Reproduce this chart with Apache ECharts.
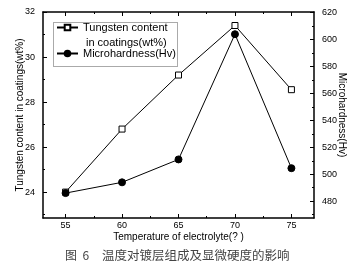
<!DOCTYPE html>
<html><head><meta charset="utf-8">
<script src="https://cdn.jsdelivr.net/npm/echarts@6/dist/echarts.min.js"></script>
<style>html,body{margin:0;padding:0;background:#fff}#c{width:357px;height:266px}</style>
</head><body><div id="c"></div>
<script>
var temperatures = [55, 60, 65, 70, 75];
var tungstenContent = [24.0, 26.8, 29.2, 31.4, 28.55];
var microhardness = [486, 494, 511, 604, 504.5];
var xTicks = [55, 60, 65, 70, 75];
var xMinorTicks = [57.5, 62.5, 67.5, 72.5];
var leftTicks = [24, 26, 28, 30, 32];
var leftMinorTicks = [23, 25, 27, 29, 31];
var rightTicks = [480, 500, 520, 540, 560, 580, 600, 620];
var rightMinorTicks = [470, 490, 510, 530, 550, 570, 590, 610];

var FONT = 'Liberation Sans';
var chart = echarts.init(document.getElementById('c'), null, {renderer: 'canvas'});
var xr = {min: 53, max: 77}, lr = {min: 22.85, max: 32}, rr = {min: 467.5, max: 620.5};
function pair(a, b) { return a.map(function (v, i) { return [v, b[i]]; }); }
var axLine = {show: true, lineStyle: {color: '#000', width: 1.5}};
function tickAxis(base, vals, len, showLine) {
  return Object.assign({
    type: 'value', splitLine: {show: false},
    axisLine: showLine ? axLine : {show: false},
    axisLabel: {show: false},
    axisTick: {show: true, inside: true, length: len, customValues: vals, lineStyle: {color: '#000', width: 1}}
  }, base);
}
var lblStyle = {fontFamily: FONT, fontSize: 9, color: '#000'};

chart.setOption({
  animation: false,
  grid: {left: 43, right: 43, top: 12, bottom: 48},
  legend: {
    show: true, orient: 'vertical', left: 56, top: 22, padding: 0,
    itemWidth: 21, itemHeight: 7, itemGap: 15,
    textStyle: {fontFamily: FONT, fontSize: 11, color: '#000'},
    data: ['Tungsten', 'Microhardness'],
    formatter: function (n) { return n === 'Tungsten' ? 'Tungsten content' : 'Microhardness(Hv)'; }
  },
  xAxis: [
    Object.assign(tickAxis({position: 'bottom', min: xr.min, max: xr.max}, xTicks, 4, true), {
      axisLabel: {show: true, customValues: xTicks, margin: 3, fontFamily: FONT, fontSize: 9, color: '#000'},
      name: 'Temperature of electrolyte(? )', nameLocation: 'middle', nameGap: 14, nameMoveOverlap: false,
      nameTextStyle: {fontFamily: FONT, fontSize: 10, color: '#000', verticalAlign: 'top'}
    }),
    tickAxis({position: 'top', min: xr.min, max: xr.max}, xTicks, 4, true),
    tickAxis({position: 'bottom', min: xr.min, max: xr.max}, xMinorTicks, 2, false),
    tickAxis({position: 'top', min: xr.min, max: xr.max}, xMinorTicks, 2, false)
  ],
  yAxis: [
    Object.assign(tickAxis({position: 'left', min: lr.min, max: lr.max}, leftTicks, 4, true), {
      axisLabel: Object.assign({show: true, customValues: leftTicks, margin: 8}, lblStyle),
      name: 'Tungsten content in coatings(wt%)', nameLocation: 'middle', nameGap: 18, nameRotate: 90, nameMoveOverlap: false,
      nameTextStyle: {fontFamily: FONT, fontSize: 10, color: '#000'}
    }),
    Object.assign(tickAxis({position: 'right', min: rr.min, max: rr.max}, rightTicks, 4, true), {
      axisLabel: Object.assign({show: true, customValues: rightTicks, margin: 8}, lblStyle),
      name: 'Microhardness(Hv)', nameLocation: 'middle', nameGap: 23, nameRotate: -90, nameMoveOverlap: false,
      nameTextStyle: {fontFamily: FONT, fontSize: 10, color: '#000'}
    }),
    tickAxis({position: 'left', min: lr.min, max: lr.max}, leftMinorTicks, 2, false),
    tickAxis({position: 'right', min: rr.min, max: rr.max}, rightMinorTicks, 2, false)
  ],
  series: [
    {
      name: 'Tungsten', type: 'line', xAxisIndex: 0, yAxisIndex: 0,
      data: pair(temperatures, tungstenContent),
      symbol: 'rect', symbolSize: 6, showAllSymbol: true,
      lineStyle: {color: '#000', width: 1},
      itemStyle: {color: '#fff', borderColor: '#000', borderWidth: 1}
    },
    {
      name: 'Microhardness', type: 'line', xAxisIndex: 0, yAxisIndex: 1,
      data: pair(temperatures, microhardness),
      symbol: 'circle', symbolSize: 7, showAllSymbol: true,
      lineStyle: {color: '#000', width: 1},
      itemStyle: {color: '#000', borderColor: '#000', borderWidth: 1}
    }
  ],
  graphic: [
    {type: 'rect', shape: {x: 53.5, y: 22.5, width: 124, height: 44},
     style: {fill: 'none', stroke: '#555', lineWidth: 1, lineDash: [1, 1]}, z: 10},
    {type: 'text', left: 86, top: 37,
     style: {text: 'in coatings(wt%)', font: '11px "Liberation Sans"', fill: '#000'}, z: 10},
    {type: 'text', left: 65, top: 249,
     style: {text: '图  6', font: '12px "Noto Sans CJK SC"', fill: '#444'}},
    {type: 'text', left: 102, top: 249,
     style: {text: '温度对镀层组成及显微硬度的影响', font: '12.5px "Noto Sans CJK SC"', fill: '#444'}}
  ]
});
</script></body></html>
